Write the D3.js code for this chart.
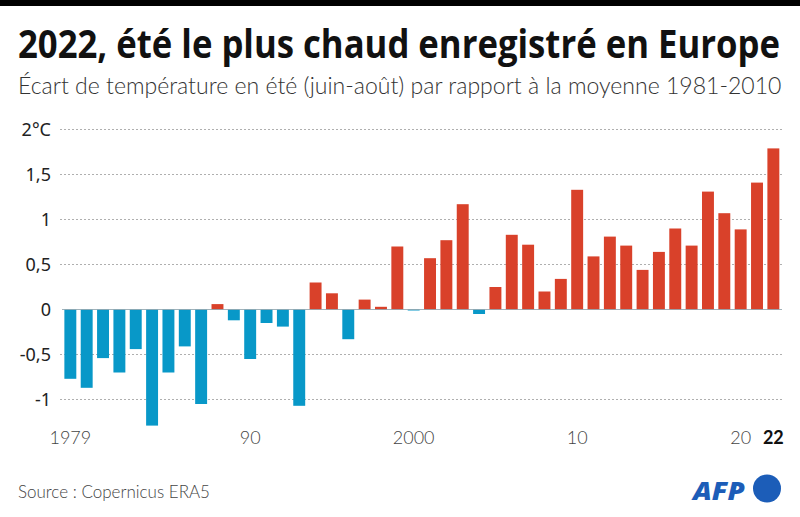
<!DOCTYPE html>
<html><head><meta charset="utf-8">
<script src="https://cdn.jsdelivr.net/npm/d3@7"></script>
<style>
body{margin:0;background:#fff;}
svg{display:block;}
</style></head>
<body>
<svg id="chart" width="800" height="517"></svg>
<script>
const years = d3.range(1979, 2023);
const anomalies = [-0.77,-0.87,-0.54,-0.70,-0.44,-1.29,-0.70,-0.41,-1.05,0.06,
  -0.12,-0.55,-0.15,-0.19,-1.07,0.30,0.18,-0.33,0.11,0.03,
  0.70,-0.01,0.57,0.77,1.17,-0.05,0.25,0.83,0.72,0.20,
  0.34,1.33,0.59,0.81,0.71,0.44,0.64,0.90,0.71,1.31,
  1.07,0.89,1.41,1.79];
const yTicks = [2,1.5,1,0.5,0,-0.5,-1];
const yTickLabels = ["2°C","1,5","1","0,5","0","-0,5","-1"];
const xTickYears = [1979,1990,2000,2010,2020,2022];
const xTickLabels = ["1979","90","2000","10","20","22"];

const svg = d3.select("#chart");
const data = years.map((y,i)=>({year:y, value:anomalies[i]}));

svg.append("rect").attr("x",0).attr("y",0).attr("width",800).attr("height",6).attr("fill","#000");

function fitText(sel, x0, y0, width){
  const w = sel.node().getComputedTextLength();
  sel.attr("x",0).attr("y",0).attr("transform",`translate(${x0},${y0}) scale(${width/w},1)`);
}

const title = svg.append("text")
  .attr("font-family","'Open Sans', 'Noto Sans', sans-serif").attr("font-weight",700)
  .attr("font-size",39).attr("fill","#111")
  .text("2022, été le plus chaud enregistré en Europe");
fitText(title, 18, 58, 762);

const sub = svg.append("text")
  .attr("font-family","Lato, 'Open Sans', sans-serif").attr("font-weight",300)
  .attr("font-size",23).attr("fill","#333")
  .text("Écart de température en été (juin-août) par rapport à la moyenne 1981-2010");
fitText(sub, 18, 94, 764);

const x = d3.scaleBand().domain(years).range([62,781.7]).paddingInner(0.27).paddingOuter(0.145);
const y = d3.scaleLinear().domain([-1,2]).range([399.5,129.5]);

// gridlines
const grid = svg.append("g");
grid.selectAll("line").data(yTicks.filter(d=>d!==0)).join("line")
  .attr("x1",60).attr("x2",782)
  .attr("y1",d=>y(d)).attr("y2",d=>y(d))
  .attr("stroke","#9a9a9a").attr("stroke-width",0.8).attr("stroke-dasharray","2,2");

// y axis labels
const yAxis = d3.axisLeft(y).tickValues(yTicks).tickSize(0).tickPadding(0)
  .tickFormat((d,i)=>yTickLabels[i]);
const gy = svg.append("g").attr("transform","translate(51,0)").call(yAxis);
gy.select(".domain").remove();
gy.selectAll("text").attr("font-family","'Noto Sans', sans-serif")
  .attr("font-size",18).attr("fill","#222").attr("dy","0.35em");

// bars
svg.append("g").selectAll("rect").data(data).join("rect")
  .attr("x",d=>x(d.year))
  .attr("width",x.bandwidth())
  .attr("y",d=>y(Math.max(0,d.value)))
  .attr("height",d=>Math.max(1,Math.abs(y(d.value)-y(0))))
  .attr("fill",d=>d.value>=0?"#d9412a":"#0898c8");

// zero line
svg.append("line").attr("x1",62).attr("x2",782).attr("y1",y(0)).attr("y2",y(0))
  .attr("stroke","#8aa0aa").attr("stroke-width",0.8);

// x axis labels
const xAxis = d3.axisBottom(x).tickValues(xTickYears).tickSize(0).tickPadding(0)
  .tickFormat((d,i)=>xTickLabels[i]);
const gx = svg.append("g").attr("transform","translate(0,431)").call(xAxis);
gx.select(".domain").remove();
gx.selectAll("text").attr("font-family","Lato, 'Open Sans', sans-serif")
  .attr("font-weight",d=>d===2022?700:300)
  .attr("font-size",18).attr("fill",d=>d===2022?"#111":"#444");

// source
svg.append("text").attr("x",18).attr("y",498)
  .attr("font-family","Lato, 'Open Sans', sans-serif").attr("font-weight",300)
  .attr("font-size",17).attr("fill","#444")
  .text("Source : Copernicus ERA5");

// AFP logo
const afp = svg.append("text")
  .attr("font-family","'Open Sans', 'Noto Sans', sans-serif").attr("font-weight",800)
  .attr("font-style","italic").attr("font-size",25).attr("fill","#1c5db8")
  .text("AFP");
fitText(afp, 693, 500, 52);
svg.append("circle").attr("cx",767).attr("cy",488.5).attr("r",14).attr("fill","#1c5db8");
</script>
</body></html>
